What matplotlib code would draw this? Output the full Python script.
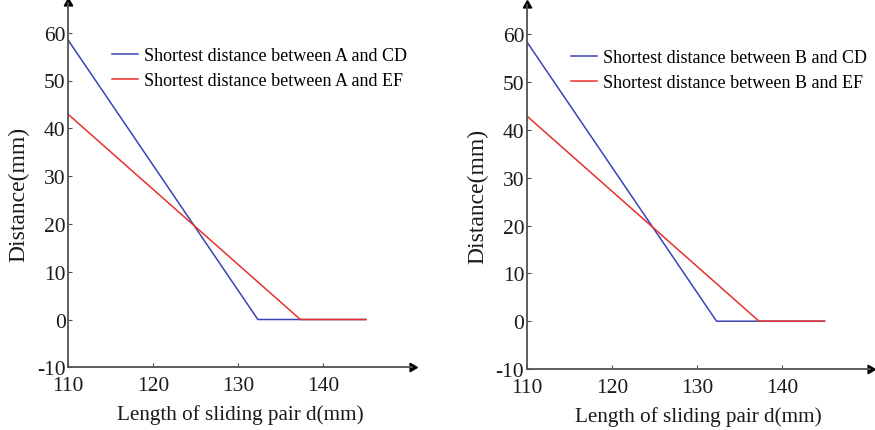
import matplotlib
matplotlib.use("Agg")
import matplotlib.pyplot as plt

# Data
d_cd = [110, 132.3, 145]
dist_A_CD = [58.4, 0, 0]
d_ef = [110, 137.3, 145]
dist_A_EF = [42.9, 0, 0]
dist_B_CD = [58.4, 0, 0]
dist_B_EF = [42.9, 0, 0]
xticks = [110, 120, 130, 140]
yticks = [-10, 0, 10, 20, 30, 40, 50, 60]
labels_left = ["Shortest distance between A and CD", "Shortest distance between A and EF"]
labels_right = ["Shortest distance between B and CD", "Shortest distance between B and EF"]

plt.rcParams['font.family'] = ['Liberation Serif', 'DejaVu Serif']
plt.rcParams['axes.unicode_minus'] = False

W, H = 875, 431
fig = plt.figure(figsize=(W/100, H/100), dpi=100)

BLUE = '#3b44b4'
RED = '#e8302c'
AX = '#505050'

def make_ax(left_px, bottom_px, cd_y, ef_y, labels):
    x0, x1 = 110, 150.4
    y0, y1 = -10, 66.2
    width_px = (x1 - x0) * 8.5
    height_px = (y1 - y0) * 4.78
    ax = fig.add_axes([left_px / W, 1 - bottom_px / H, width_px / W, height_px / H])
    ax.set_xlim(x0, x1)
    ax.set_ylim(y0, y1)
    ax.plot(d_cd, cd_y, color=BLUE, lw=1.1, label=labels[0])
    ax.plot(d_ef, ef_y, color=RED, lw=1.1, label=labels[1])
    for s in ['top', 'right']:
        ax.spines[s].set_visible(False)
    for s in ['left', 'bottom']:
        ax.spines[s].set_color(AX)
        ax.spines[s].set_linewidth(1.3)
    ax.set_xticks(xticks)
    ax.set_yticks(yticks)
    ax.tick_params(direction='in', length=3, width=0.8, colors=AX, labelcolor='#1a1a1a',
                   labelsize=15.5, pad=2)
    ax.tick_params(axis='x', pad=6.5)
    # arrows
    ax.plot(1, 0, marker=(3, 0, -90), ms=7, color='black', transform=ax.transAxes, clip_on=False)
    ax.plot(0, 1, marker=(3, 0, 0), ms=7, color='black', transform=ax.transAxes, clip_on=False)
    ax.set_xlabel("Length of sliding pair d(mm)", fontsize=15.2, color='#1a1a1a', labelpad=6.5)
    ax.set_ylabel("Distance(mm)", fontsize=17, color='#1a1a1a')
    ax.yaxis.set_label_coords(-0.113, 0.477)
    ax.legend(loc='upper left', bbox_to_anchor=(0.128, 0.879), frameon=False, fontsize=13,
              handlelength=1.45, handletextpad=0.3, labelspacing=0.45, borderaxespad=0,
              borderpad=0)
    return ax

make_ax(68.3, 368.3, dist_A_CD, dist_A_EF, labels_left)
make_ax(527, 370, dist_B_CD, dist_B_EF, labels_right)

fig.savefig("out.png", dpi=100)
